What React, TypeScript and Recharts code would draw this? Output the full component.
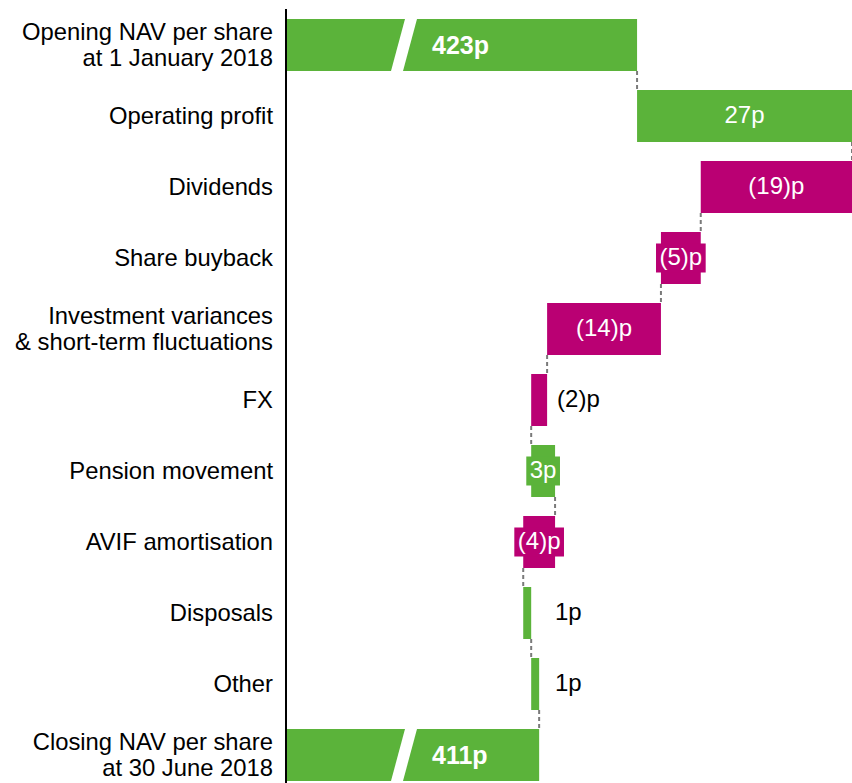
import React from 'react';
import { BarChart, Bar, XAxis, YAxis } from 'recharts';

// NAV per share bridge, H1 2018
const categories = [
  'Opening NAV per share\nat 1 January 2018',
  'Operating profit',
  'Dividends',
  'Share buyback',
  'Investment variances\n& short-term fluctuations',
  'FX',
  'Pension movement',
  'AVIF amortisation',
  'Disposals',
  'Other',
  'Closing NAV per share\nat 30 June 2018',
];

const openingNav = 423;
const movements = [27, -19, -5, -14.3, -2, 3, -4, 1, 1];

// broken axis: the total bars start at axisMin
const axisMin = 378.9;
const axisMax = 450;

const GREEN = '#5BB33A';
const MAGENTA = '#BA0073';
const FONT = '"Liberation Sans", Arial, sans-serif';

const CHART_W = 852;
const CHART_H = 790;
const MARGIN_TOP = 9;
const BAR_SIZE = 52;
const BAND = (CHART_H - MARGIN_TOP) / categories.length;
const GAP = BAND - BAR_SIZE;

type Row = {
  name: string;
  range: [number, number];
  kind: 'total' | 'up' | 'down';
  label: string;
};

function buildRows(): Row[] {
  const rows: Row[] = [];
  let running = openingNav;
  rows.push({ name: categories[0], range: [axisMin, openingNav], kind: 'total', label: `${Math.round(openingNav)}p` });
  movements.forEach((m, i) => {
    const end = running + m;
    rows.push({
      name: categories[i + 1],
      range: [Math.min(running, end), Math.max(running, end)],
      kind: m >= 0 ? 'up' : 'down',
      label: m >= 0 ? `${Math.round(m)}p` : `(${Math.round(-m)})p`,
    });
    running = end;
  });
  rows.push({ name: categories[categories.length - 1], range: [axisMin, running], kind: 'total', label: `${Math.round(running)}p` });
  return rows;
}

const data = buildRows();

// rough Arial advance widths, in em
const textWidth = (s: string, size: number) =>
  s.split('').reduce((w, c) => w + (c === '(' || c === ')' ? 0.333 : 0.556), 0) * size;

function WaterfallBar(props: any) {
  const { x, y, width, height, payload, index } = props;
  const fill = payload.kind === 'down' ? MAGENTA : GREEN;
  const cy = y + height / 2;
  const size = 24;
  const label: string = payload.label;
  const isLast = index === data.length - 1;

  let labelEl: React.ReactNode = null;
  if (payload.kind === 'total') {
    labelEl = (
      <>
        <polygon
          points={`${x + 119},${y} ${x + 131},${y} ${x + 117},${y + height} ${x + 105},${y + height}`}
          fill="#fff"
        />
        <text x={x + 146} y={cy + 9} fill="#fff" fontSize={25} fontWeight="bold" fontFamily={FONT}>
          {label}
        </text>
      </>
    );
  } else {
    const tw = textWidth(label, size);
    if (tw + 8 <= width) {
      labelEl = (
        <text x={x + width / 2} y={cy + 6.5} textAnchor="middle" fill="#fff" fontSize={size} fontFamily={FONT}>
          {label}
        </text>
      );
    } else if (width >= 20) {
      const bw = tw + 7;
      labelEl = (
        <>
          <rect x={x + width / 2 - bw / 2} y={cy - 14.5} width={bw} height={29} fill={fill} />
          <text x={x + width / 2} y={cy + 6.5} textAnchor="middle" fill="#fff" fontSize={size} fontFamily={FONT}>
            {label}
          </text>
        </>
      );
    } else {
      labelEl = (
        <text x={Math.max(x + width + 10, 555)} y={cy + 6.5} fill="#000" fontSize={size} fontFamily={FONT}>
          {label}
        </text>
      );
    }
  }

  const endX = payload.kind === 'down' ? x : x + width;

  return (
    <g>
      <rect x={x} y={y} width={width} height={height} fill={fill} />
      {labelEl}
      {!isLast && (
        <line
          x1={endX}
          x2={endX}
          y1={y + height}
          y2={y + height + GAP}
          stroke="#7a7a7a"
          strokeWidth={2}
          strokeDasharray="4 3"
        />
      )}
    </g>
  );
}

function CategoryTick(props: any) {
  const { x, y, payload } = props;
  const lines: string[] = String(payload.value).split('\n');
  const first = lines.length === 1 ? 8.8 : -4.5;
  return (
    <text textAnchor="end" fill="#000" fontSize={23.8} fontFamily={FONT}>
      {lines.map((l, i) => (
        <tspan key={i} x={x} y={y + first + i * 25.5}>
          {l}
        </tspan>
      ))}
    </text>
  );
}

export default function App() {
  return (
    <div style={{ position: 'fixed', top: 0, left: 0, width: 852, height: 783, overflow: 'hidden', background: '#fff' }}>
      <BarChart
        width={CHART_W}
        height={CHART_H}
        data={data}
        layout="vertical"
        margin={{ top: MARGIN_TOP, right: 0, bottom: 0, left: 0 }}
      >
        <XAxis type="number" domain={[axisMin, axisMax]} allowDataOverflow hide />
        <YAxis
          type="category"
          dataKey="name"
          width={286}
          axisLine={{ stroke: '#000', strokeWidth: 2 }}
          tickLine={false}
          tickSize={0}
          tickMargin={13}
          interval={0}
          tick={<CategoryTick />}
        />
        <Bar dataKey="range" barSize={BAR_SIZE} isAnimationActive={false} shape={WaterfallBar} />
      </BarChart>
    </div>
  );
}
